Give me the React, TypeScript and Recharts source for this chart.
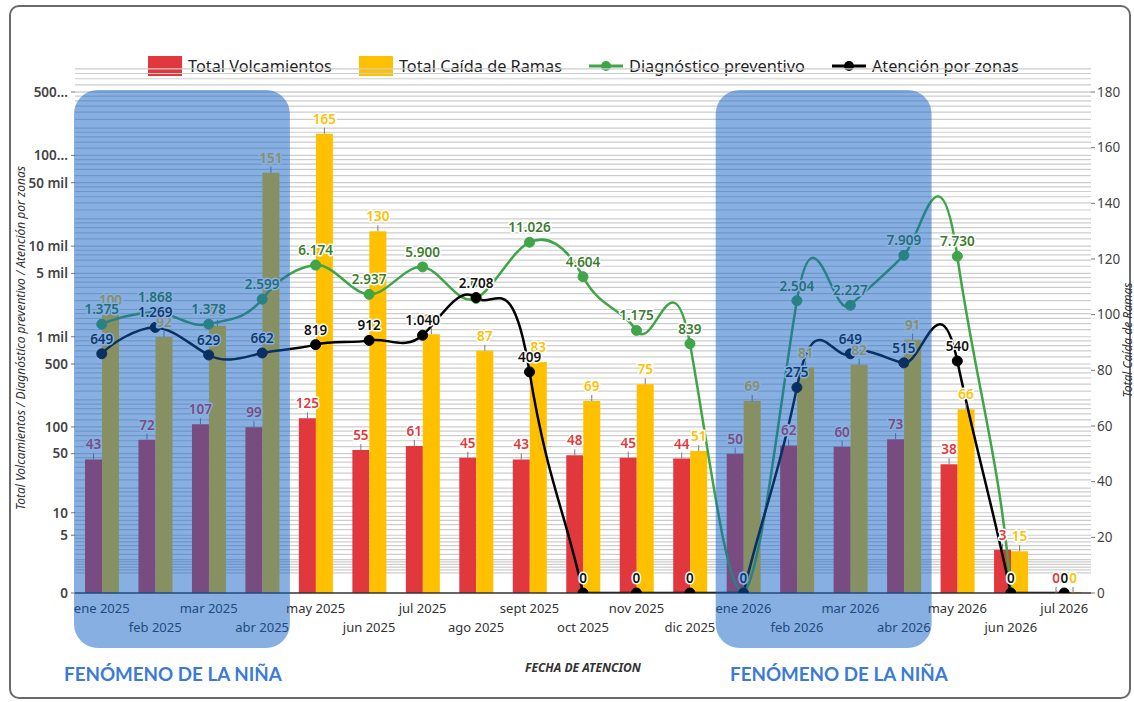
import React from 'react';
import {
  ComposedChart,
  Bar,
  Line,
  XAxis,
  YAxis,
  CartesianGrid,
  LabelList,
  ReferenceArea,
} from 'recharts';

// ---------- data ----------
const months = [
  'ene 2025', 'feb 2025', 'mar 2025', 'abr 2025', 'may 2025', 'jun 2025', 'jul 2025',
  'ago 2025', 'sept 2025', 'oct 2025', 'nov 2025', 'dic 2025', 'ene 2026', 'feb 2026',
  'mar 2026', 'abr 2026', 'may 2026', 'jun 2026', 'jul 2026',
];
const volcamientos = [43, 72, 107, 99, 125, 55, 61, 45, 43, 48, 45, 44, 50, 62, 60, 73, 38, 3, 0];
const caidaRamas = [100, 92, 96, 151, 165, 130, 93, 87, 83, 69, 75, 51, 69, 81, 82, 91, 66, 15, 0];
const diagnostico: (number | null)[] = [
  1375, 1868, 1378, 2599, 6174, 2937, 5900, 2650, 11026, 4604, 1175, 839, 0, 2504, 2227, 7909, 7730, 0, null,
];
const atencion = [649, 1269, 629, 662, 819, 912, 1040, 2708, 409, 0, 0, 0, 0, 275, 649, 515, 540, 0, 0];

const leftTicks = [0, 5, 10, 50, 100, 500, 1000, 5000, 10000, 50000, 100000, 500000];
const leftTickLabels = ['0', '5', '10', '50', '100', '500', '1 mil', '5 mil', '10 mil', '50 mil', '100...', '500...'];
const rightTicks = [0, 20, 40, 60, 80, 100, 120, 140, 160, 180];
const ninaPeriods = [
  ['ene 2025', 'abr 2025'],
  ['ene 2026', 'abr 2026'],
];
const gridMultipliers = [1, 1.2, 1.4, 1.6, 1.8, 2, 2.5, 3, 3.5, 4, 4.5, 5, 6, 7, 8, 9];
const gridDecades = [1, 10, 100, 1000, 10000, 100000];

const data = months.map((m, i) => ({
  month: m,
  volc: volcamientos[i],
  ramas: caidaRamas[i],
  diag: diagnostico[i],
  aten: atencion[i],
}));

const gridValues: number[] = [];
gridDecades.forEach((d) => gridMultipliers.forEach((m) => gridValues.push(d * m)));
gridValues.push(500000);

// ---------- colors / fonts ----------
const RED = '#e0383d';
const YELLOW = '#ffc000';
const GREEN = '#3fa548';
const GREEN_LABEL = '#3b7d2c';
const BLACK = '#000000';
const FONT = "'Noto Sans', 'Open Sans', sans-serif";

// ---------- helpers ----------
const fmt = (v: number) => String(v).replace(/\B(?=(\d{3})+(?!\d))/g, '.');

function symlogScale(c: number): any {
  let dom: number[] = [0, 1];
  let rng: number[] = [0, 1];
  const tf = (v: number) => Math.sign(v) * Math.log10(1 + Math.abs(v) / c);
  const inv = (t: number) => Math.sign(t) * c * (Math.pow(10, Math.abs(t)) - 1);
  const s: any = (v: number) => {
    const a = tf(dom[0]);
    const b = tf(dom[dom.length - 1]);
    const r0 = rng[0];
    const r1 = rng[rng.length - 1];
    return r0 + ((tf(Number(v)) - a) / (b - a)) * (r1 - r0);
  };
  s.domain = (d?: any) => {
    if (d === undefined) return dom.slice();
    dom = Array.from(d as ArrayLike<number>).map(Number);
    return s;
  };
  s.range = (r?: any) => {
    if (r === undefined) return rng.slice();
    rng = Array.from(r as ArrayLike<number>).map(Number);
    return s;
  };
  s.invert = (p: number) => {
    const a = tf(dom[0]);
    const b = tf(dom[dom.length - 1]);
    const r0 = rng[0];
    const r1 = rng[rng.length - 1];
    return inv(a + ((p - r0) / (r1 - r0)) * (b - a));
  };
  s.ticks = () => leftTicks.slice();
  s.tickFormat = () => (v: number) => String(v);
  s.clamp = () => s;
  s.nice = () => s;
  s.copy = () => symlogScale(c).domain(dom).range(rng);
  return s;
}
const leftScale = symlogScale(1.5);

// smooth curve (cardinal-like, with stronger vertical tangents, never dipping under the lowest point)
const TANGENT_Y = 0.37;
function smoothCurve(context: any) {
  let pts: number[][] = [];
  return {
    areaStart() {},
    areaEnd() {},
    lineStart() {
      pts = [];
    },
    point(x: number, y: number) {
      pts.push([+x, +y]);
    },
    lineEnd() {
      const n = pts.length;
      if (!n) return;
      const maxY = Math.max(...pts.map((p) => p[1]));
      context.moveTo(pts[0][0], pts[0][1]);
      for (let i = 0; i < n - 1; i++) {
        const p0 = pts[i > 0 ? i - 1 : i];
        const p1 = pts[i];
        const p2 = pts[i + 1];
        const p3 = pts[i + 2 < n ? i + 2 : i + 1];
        const c1x = p1[0] + (p2[0] - p0[0]) / 6;
        const c2x = p2[0] - (p3[0] - p1[0]) / 6;
        const c1y = Math.min(maxY, p1[1] + (p2[1] - p0[1]) * TANGENT_Y);
        const c2y = Math.min(maxY, p2[1] - (p3[1] - p1[1]) * TANGENT_Y);
        context.bezierCurveTo(c1x, c1y, c2x, c2y, p2[0], p2[1]);
      }
    },
  };
}

const labelTextStyle: React.CSSProperties = {
  fontFamily: FONT,
  fontSize: 13.5,
  fontWeight: 600,
  paintOrder: 'stroke',
  stroke: '#ffffff',
  strokeWidth: 3,
  strokeLinejoin: 'round',
} as any;

const getBox = (props: any) => {
  const vb = props.viewBox || {};
  const x = props.x ?? vb.x;
  const y = props.y ?? vb.y;
  const width = props.width ?? vb.width ?? 0;
  const height = props.height ?? vb.height ?? 0;
  return { x: Number(x), y: Number(y), width: Number(width), height: Number(height) };
};

const barLabel = (color: string) => (props: any) => {
  const { value } = props;
  if (value === null || value === undefined) return null;
  const { x, y, width, height } = getBox(props);
  const cx = x + width / 2;
  // a zero value keeps its label on the baseline
  const top = Number(value) === 0 ? y + height : y;
  return (
    <g>
      <line x1={cx} x2={cx} y1={top} y2={top - 6} stroke="#7a7a7a" strokeWidth={1} />
      <text x={cx} y={top - 10} textAnchor="middle" fill={color} style={labelTextStyle}>
        {fmt(Number(value))}
      </text>
    </g>
  );
};

const lineLabel = (color: string) => (props: any) => {
  const { value } = props;
  if (value === null || value === undefined) return null;
  const { x, y } = getBox(props);
  return (
    <text x={x} y={y - 10} textAnchor="middle" fill={color} style={labelTextStyle}>
      {fmt(Number(value))}
    </text>
  );
};

const XTick = (props: any) => {
  const { x, y, payload, index } = props;
  const i = typeof index === 'number' ? index : payload?.index ?? 0;
  return (
    <text
      x={x}
      y={y + (i % 2 ? 39 : 20)}
      textAnchor="middle"
      fill="#333"
      style={{ fontFamily: FONT, fontSize: 13 }}
    >
      {payload.value}
    </text>
  );
};

const NinaShape = (props: any) => {
  const { x, y, width, height } = props;
  return (
    <rect
      x={x - 1}
      y={y - 2}
      width={width + 2}
      height={height + 57}
      rx={24}
      ry={24}
      fill="rgba(15, 95, 195, 0.5)"
    />
  );
};

const legendItems = [
  { name: 'Total Volcamientos', color: RED, kind: 'rect' },
  { name: 'Total Caída de Ramas', color: YELLOW, kind: 'rect' },
  { name: 'Diagnóstico preventivo', color: GREEN, kind: 'line' },
  { name: 'Atención por zonas', color: BLACK, kind: 'line' },
];

export default function App() {
  return (
    <div style={{ position: 'absolute', left: 0, top: 0, width: 1134, height: 702, background: '#fff', fontFamily: FONT }}>
      <div
        style={{
          position: 'absolute',
          left: 9,
          top: 5,
          width: 1122,
          height: 694,
          boxSizing: 'border-box',
          border: '2px solid #6a6a6a',
          borderRadius: 10,
        }}
      />
      {/* legend */}
      <div
        style={{
          position: 'absolute',
          left: 0,
          top: 55,
          width: 1167,
          height: 22,
          display: 'flex',
          justifyContent: 'center',
          alignItems: 'center',
          gap: 27,
          fontSize: 16.3,
          color: '#222',
        }}
      >
        {legendItems.map((it) => (
          <div key={it.name} style={{ display: 'flex', alignItems: 'center', gap: 6 }}>
            {it.kind === 'rect' ? (
              <div style={{ width: 34, height: 20, background: it.color }} />
            ) : (
              <svg width={34} height={20}>
                <line x1={0} x2={34} y1={10} y2={10} stroke={it.color} strokeWidth={3} />
                <circle cx={17} cy={10} r={5} fill={it.color} />
              </svg>
            )}
            <span style={{ whiteSpace: 'nowrap' }}>{it.name}</span>
          </div>
        ))}
      </div>

      <div style={{ position: 'absolute', left: 0, top: 0 }}>
        <ComposedChart
          width={1134}
          height={702}
          data={data}
          margin={{ top: 92, right: 3, bottom: 59, left: 15 }}
          barGap={0}
        >
          <CartesianGrid
            yAxisId="left"
            vertical={false}
            horizontalValues={gridValues}
            stroke="#cdcdcd"
            strokeWidth={1.2}
          />
          <XAxis
            dataKey="month"
            interval={0}
            height={50}
            tickLine={false}
            tickSize={0}
            tickMargin={0}
            axisLine={{ stroke: '#333', strokeWidth: 1.5 }}
            tick={<XTick />}
          />
          <YAxis
            yAxisId="left"
            width={60}
            scale={leftScale}
            type="number"
            domain={[0, 500000]}
            ticks={leftTicks}
            interval={0}
            allowDataOverflow
            axisLine={false}
            tickLine={{ stroke: '#777' }}
            tickSize={4}
            tickMargin={3}
            tickFormatter={(v: number) => leftTickLabels[leftTicks.indexOf(v)] ?? String(v)}
            tick={{ fill: '#444', fontSize: 13.5, fontWeight: 600, fontFamily: FONT }}
          />
          <YAxis
            yAxisId="right"
            orientation="right"
            width={40}
            type="number"
            domain={[0, 180]}
            ticks={rightTicks}
            interval={0}
            axisLine={false}
            tickLine={{ stroke: '#777' }}
            tickSize={4}
            tickMargin={2}
            tick={{ fill: '#444', fontSize: 13.5, fontFamily: FONT }}
          />
          <Bar yAxisId="left" dataKey="volc" fill={RED} barSize={17} minPointSize={1} isAnimationActive={false}>
            <LabelList dataKey="volc" content={barLabel(RED)} />
          </Bar>
          <Bar yAxisId="right" dataKey="ramas" fill={YELLOW} barSize={17} minPointSize={1} isAnimationActive={false}>
            <LabelList dataKey="ramas" content={barLabel(YELLOW)} />
          </Bar>
          <Line
            yAxisId="left"
            dataKey="diag"
            type={smoothCurve as any}
            stroke={GREEN}
            strokeWidth={2.5}
            dot={{ r: 5, fill: GREEN, stroke: GREEN, strokeWidth: 1 }}
            activeDot={false}
            isAnimationActive={false}
          >
            <LabelList dataKey="diag" content={lineLabel(GREEN_LABEL)} />
          </Line>
          <Line
            yAxisId="left"
            dataKey="aten"
            type={smoothCurve as any}
            stroke={BLACK}
            strokeWidth={2.5}
            dot={{ r: 5, fill: BLACK, stroke: BLACK, strokeWidth: 1 }}
            activeDot={false}
            isAnimationActive={false}
          >
            <LabelList dataKey="aten" content={lineLabel('#111')} />
          </Line>
          {ninaPeriods.map(([a, b]) => (
            <ReferenceArea
              key={a}
              yAxisId="left"
              x1={a}
              x2={b}
              ifOverflow="visible"
              zIndex={3000}
              shape={<NinaShape />}
            />
          ))}
        </ComposedChart>
      </div>

      {/* axis titles */}
      <div
        style={{
          position: 'absolute',
          left: 20,
          top: 338,
          transform: 'translate(-50%, -50%) rotate(-90deg)',
          whiteSpace: 'nowrap',
          fontStyle: 'italic',
          fontSize: 12,
          color: '#333',
        }}
      >
        Total Volcamientos / Diagnóstico preventivo / Atención por zonas
      </div>
      <div
        style={{
          position: 'absolute',
          left: 1127,
          top: 340,
          transform: 'translate(-50%, -50%) rotate(-90deg)',
          whiteSpace: 'nowrap',
          fontStyle: 'italic',
          fontSize: 12,
          color: '#333',
        }}
      >
        Total Caída de Ramas
      </div>
      <div
        style={{
          position: 'absolute',
          left: 583,
          top: 667,
          transform: 'translate(-50%, -50%)',
          whiteSpace: 'nowrap',
          fontStyle: 'italic',
          fontWeight: 700,
          fontSize: 12,
          color: '#333',
        }}
      >
        FECHA DE ATENCION
      </div>
      <div
        style={{
          position: 'absolute',
          left: 64,
          top: 662,
          whiteSpace: 'nowrap',
          fontFamily: "Lato, 'Noto Sans', sans-serif",
          fontWeight: 700,
          fontSize: 18.8,
          color: '#3b7bd6',
        }}
      >
        FENÓMENO DE LA NIÑA
      </div>
      <div
        style={{
          position: 'absolute',
          left: 730,
          top: 662,
          whiteSpace: 'nowrap',
          fontFamily: "Lato, 'Noto Sans', sans-serif",
          fontWeight: 700,
          fontSize: 18.8,
          color: '#3b7bd6',
        }}
      >
        FENÓMENO DE LA NIÑA
      </div>
    </div>
  );
}
